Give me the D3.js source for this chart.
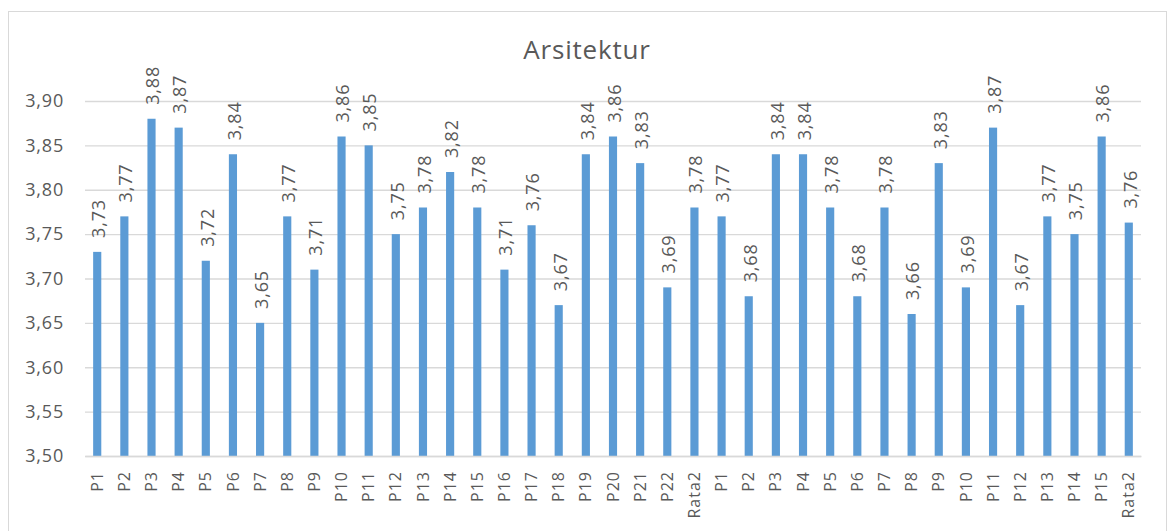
<!DOCTYPE html>
<html>
<head>
<meta charset="utf-8">
<script src="https://cdn.jsdelivr.net/npm/d3@7"></script>
<style>
  body { margin: 0; background: #fff; }
  text { font-family: "Open Sans", "Liberation Sans", sans-serif; fill: #595959; }
</style>
</head>
<body>
<script>
/* chart data */
var categories = ["P1","P2","P3","P4","P5","P6","P7","P8","P9","P10","P11","P12","P13","P14","P15","P16","P17","P18","P19","P20","P21","P22","Rata2",
                  "P1","P2","P3","P4","P5","P6","P7","P8","P9","P10","P11","P12","P13","P14","P15","Rata2"];
var values = [3.73,3.77,3.88,3.87,3.72,3.84,3.65,3.77,3.71,3.86,3.85,3.75,3.78,3.82,3.78,3.71,3.76,3.67,3.84,3.86,3.83,3.69,3.78,
              3.77,3.68,3.84,3.84,3.78,3.68,3.78,3.66,3.83,3.69,3.87,3.67,3.77,3.75,3.86,3.763];
var yTicks = [3.50,3.55,3.60,3.65,3.70,3.75,3.80,3.85,3.90];

var width = 1169, height = 531;
var plot = {left: 85, right: 1141, top: 101, bottom: 456};

var svg = d3.select("body").append("svg")
    .attr("width", width)
    .attr("height", height);

// chart border
svg.append("rect")
    .attr("x", 8.5).attr("y", 11.5)
    .attr("width", 1158).attr("height", 540)
    .attr("fill", "none")
    .attr("stroke", "#d9d9d9");

// title
svg.append("text")
    .attr("x", 587).attr("y", 59)
    .attr("text-anchor", "middle")
    .style("font-size", "26px")
    .style("letter-spacing", "0.8px")
    .text("Arsitektur");

var data = categories.map(function(c, i) { return {key: i, name: c, value: values[i]}; });

var xScale = d3.scaleBand()
    .domain(data.map(function(d) { return d.key; }))
    .range([plot.left, plot.right])
    .paddingInner(0.7)
    .paddingOuter(0.3);

var yScale = d3.scaleLinear()
    .domain([3.5, 3.9])
    .range([plot.bottom, plot.top]);

var fmt = function(v) { return d3.format(".2f")(v).replace(".", ","); };

// gridlines + y tick labels
var yAxis = d3.axisLeft(yScale)
    .tickValues(yTicks)
    .tickSize(-(plot.right - plot.left))
    .tickPadding(21)
    .tickFormat(fmt);

svg.append("g")
    .attr("transform", "translate(" + plot.left + ",0)")
    .call(yAxis)
    .call(function(g) {
        g.select(".domain").remove();
        g.selectAll(".tick line").attr("stroke", "#d9d9d9").attr("stroke-width", 1.3);
        g.selectAll(".tick text")
            .style("font-size", "18px")
            .style("letter-spacing", "0.8px")
            .attr("fill", "#595959");
    });

// bars
svg.selectAll(".bar")
    .data(data)
    .enter()
    .append("rect")
    .attr("class", "bar")
    .attr("x", function(d) { return xScale(d.key); })
    .attr("width", xScale.bandwidth())
    .attr("y", function(d) { return yScale(d.value); })
    .attr("height", function(d) { return yScale(3.5) - yScale(d.value); })
    .attr("fill", "#5b9bd5");

// value labels, rotated
svg.selectAll(".vlabel")
    .data(data)
    .enter()
    .append("text")
    .attr("class", "vlabel")
    .attr("transform", function(d) {
        var x = xScale(d.key) + xScale.bandwidth() / 2 + 1.5;
        var y = yScale(d.value) - 14;
        return "translate(" + x + "," + y + ") rotate(-90)";
    })
    .attr("dy", "0.35em")
    .attr("text-anchor", "start")
    .style("font-size", "18px")
    .style("letter-spacing", "0.8px")
    .text(function(d) { return fmt(d.value); });

// x axis
var xAxis = d3.axisBottom(xScale)
    .tickSize(0)
    .tickFormat(function(k) { return categories[k]; });

svg.append("g")
    .attr("transform", "translate(0," + plot.bottom + ")")
    .call(xAxis)
    .call(function(g) {
        g.select(".domain").attr("stroke", "#d9d9d9").attr("stroke-width", 1.3);
        g.selectAll(".tick text")
            .style("font-size", "16px")
            .style("letter-spacing", "1px")
            .attr("fill", "#595959")
            .attr("text-anchor", "end")
            .attr("transform", "rotate(-90)")
            .attr("x", -15)
            .attr("y", 0)
            .attr("dy", "0.35em");
    });
</script>
</body>
</html>
